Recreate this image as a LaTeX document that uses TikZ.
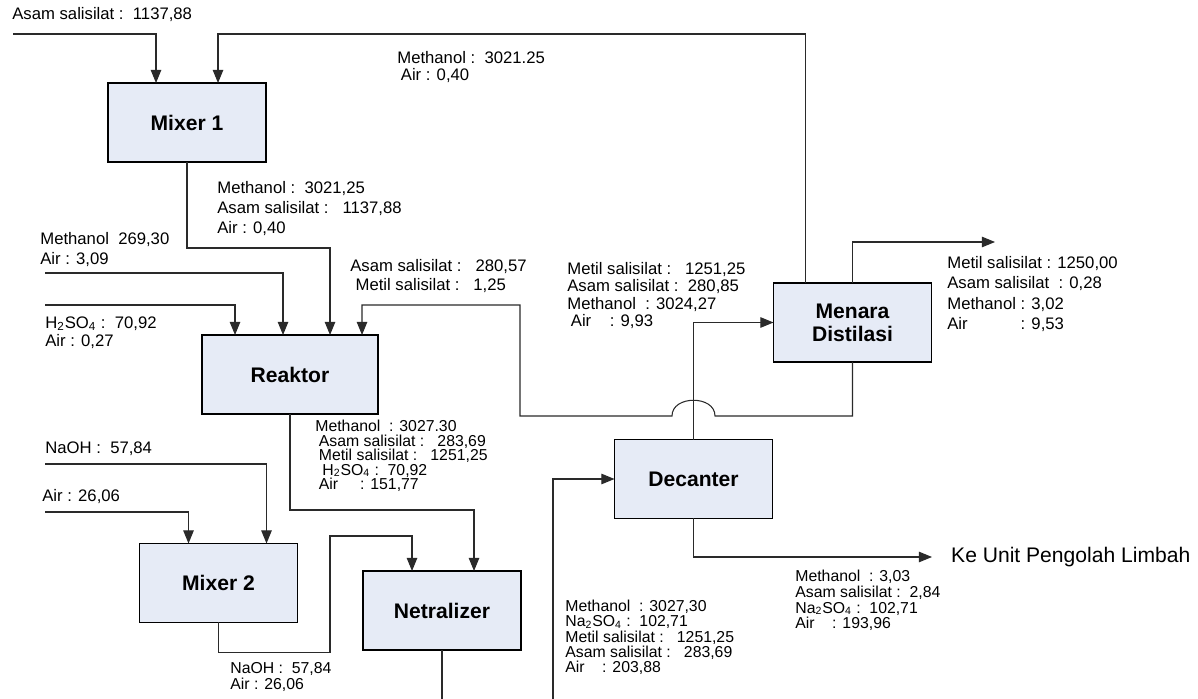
\documentclass[tikz,border=0pt]{standalone}
\usepackage{fontspec}
\setmainfont{Liberation Sans}
\usetikzlibrary{arrows.meta,calc}
\definecolor{unitfill}{HTML}{E6EBF6}
\definecolor{linegray}{HTML}{2A2A2A}

\begin{document}
\begin{tikzpicture}[x = 0.02cm, y = -0.02cm,
        unit/.style = {draw, line width = 1.1pt, fill = unitfill, minimum width = 3.16cm,
            minimum height = 1.58cm, inner sep = 0pt, outer sep = 0pt, align = center,
            font = \fontsize{12}{13}\selectfont\bfseries},
        flow/.style = {draw = linegray, line width = 0.6pt, -{Triangle[length = 7.5pt, width = 6pt]}},
        pipe/.style = {draw = linegray, line width = 0.6pt},
        stream/.style = {anchor = north west, inner sep = 0pt, align = left,
            font = \fontsize{9.5}{#1}\selectfont\lineskiplimit-5pt},
        stream/.default = 11pt,
        tight/.style = {font = \fontsize{9}{#1}\selectfont\lineskiplimit-5pt}]
    \useasboundingbox (0,0) rectangle (1198,699);

    % unit operasi
    \node[unit] (mixer1) at (187,122.5) {Mixer 1};
    \node[unit, minimum width = 3.52cm] (reaktor) at (290,374.5) {Reaktor};
    \node[unit] (mixer2) at (218.5,583) {Mixer 2};
    \node[unit] (netral) at (442,610.5) {Netralizer};
    \node[unit] (dekanter) at (693.5,479) {Decanter};
    \node[unit] (menara) at (852.5,322.5) {Menara\\Distilasi};

    % ujung bebas
    \coordinate (asamin) at (13,34);
    \coordinate (methin) at (45,273);
    \coordinate (h2so4in) at (45,305);
    \coordinate (naohin) at (45,464);
    \coordinate (airin) at (45,512);
    \coordinate (produk) at (995,242);
    \coordinate (limbah) at (932,557);
    \coordinate (netralout) at (442,699);
    \coordinate (dekanterin) at (553,699);
    \coordinate (bumpR) at (715,416);
    \coordinate (bumpL) at (672,416);

    % aliran
    \draw[flow] (asamin) -| ($(mixer1.north west)+(48,0)$);
    \draw[flow] ($(menara.north west)+(32,0)$) -- ++(0,-249) -| ($(mixer1.north west)+(110,0)$);
    \draw[flow] (mixer1.south) -- ++(0,86) -| ($(reaktor.north west)+(128,0)$);
    \draw[flow] (methin) -| ($(reaktor.north west)+(81,0)$);
    \draw[flow] (h2so4in) -| ($(reaktor.north west)+(33,0)$);
    \draw[flow] (menara.south) |- (bumpR) .. controls +(0,-21) and +(0,-21) .. (bumpL)
        -| (520,305) -| ($(reaktor.north west)+(160,0)$);
    \draw[flow] (dekanter.north) |- (menara.west);
    \draw[flow] (menara.north) |- (produk);
    \draw[flow] (reaktor.south) -- ++(0,96) -| ($(netral.north west)+(111,0)$);
    \draw[flow] (naohin) -| ($(mixer2.north west)+(127,0)$);
    \draw[flow] (airin) -| ($(mixer2.north west)+(49,0)$);
    \draw[flow] (mixer2.south) -- ++(0,30) -| (330,536) -| ($(netral.north west)+(49,0)$);
    \draw[pipe] (netral.south) -- (netralout);
    \draw[flow] (dekanterin) |- (dekanter.west);
    \draw[flow] (dekanter.south) |- (limbah);
    \node[anchor = west, font = \fontsize{12}{14}\selectfont] (limbahtxt) at (945,557) {Ke Unit Pengolah Limbah};

    % komposisi aliran
    \node[stream, anchor = west] (asamtxt) at (12,15) {Asam salisilat :\ \ 1137,88};
    \node[stream = 9.6pt] (recyctxt) at (397,51) {Methanol :\ \ 3021.25\\\hspace*{2pt}Air : 0,40};
    \node[stream = 11.4pt] (mix1out) at (217,181) {Methanol :\ \ 3021,25\\Asam salisilat :\ \ \ 1137,88\\Air : 0,40};
    \node[stream = 11.3pt] (methtxt) at (40,232) {Methanol\ \ 269,30\\Air : 3,09};
    \node[stream = 10.8pt] (h2so4txt) at (45,316) {H\textsubscript{2}SO\textsubscript{4} :\ \ 70,92\\Air : 0,27};
    \node[stream = 10.8pt] (botmtxt) at (350,259) {Asam salisilat :\ \ \ 280,57\\\hspace*{3pt}Metil salisilat :\ \ \ 1,25};
    \node[stream = 9.9pt] (feedtxt) at (567,262) {Metil salisilat :\ \ \ 1251,25\\Asam salisilat :\ \ 280,85\\Methanol\ \ : 3024,27\\\hspace*{2pt}Air\ \ \ \ : 9,93};
    \node[stream = 11.6pt] (produktxt) at (947,256) {Metil salisilat : 1250,00\\Asam salisilat\ \ : 0,28\\Methanol : 3,02\\\rlap{Air}\phantom{Methanol }: 9,53};
    \node[stream, tight = 8.2pt] (reakout) at (315,420) {Methanol\ \ : 3027.30\\\hspace*{2pt}Asam salisilat :\ \ \ 283,69\\\hspace*{2pt}Metil salisilat :\ \ \ 1251,25\\\hspace*{4pt}H\textsubscript{2}SO\textsubscript{4} :\ \ 70,92\\\hspace*{2pt}Air\ \ \ \ \ : 151,77};
    \node[stream, anchor = west] (naohtxt) at (45,449) {NaOH :\ \ 57,84};
    \node[stream, anchor = west] (airtxt) at (42,497) {Air : 26,06};
    \node[stream, tight = 9pt] (mix2out) at (230,662) {NaOH :\ \ 57,84\\Air : 26,06};
    \node[stream, tight = 8.6pt] (dekin) at (565,600) {Methanol\ \ : 3027,30\\Na\textsubscript{2}SO\textsubscript{4} :\ \ 102,71\\Metil salisilat :\ \ \ 1251,25\\Asam salisilat :\ \ \ 283,69\\Air\ \ \ \ : 203,88};
    \node[stream, tight = 8.9pt] (limbahout) at (795,570) {Methanol\ \ : 3,03\\Asam salisilat :\ \ 2,84\\Na\textsubscript{2}SO\textsubscript{4} :\ \ 102,71\\Air\ \ \ \ : 193,96};
\end{tikzpicture}
\end{document}
